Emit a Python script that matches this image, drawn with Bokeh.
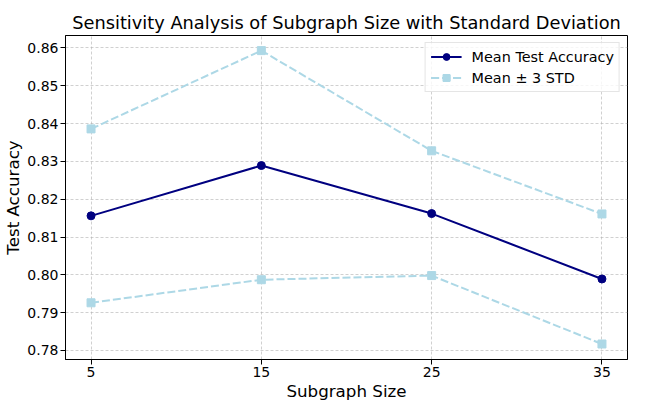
from bokeh.plotting import figure
from bokeh.models import Range1d, FixedTicker, NumeralTickFormatter
from bokeh.embed import file_html
from bokeh.resources import INLINE

# Data
subgraph_sizes = [5, 15, 25, 35]
mean_acc = [0.8156, 0.8289, 0.8162, 0.7989]
upper_acc = [0.8386, 0.8593, 0.8328, 0.8161]   # mean + 3 STD
lower_acc = [0.7926, 0.7987, 0.7998, 0.7817]   # mean - 3 STD
x_ticks = [5, 15, 25, 35]
y_ticks = [0.78, 0.79, 0.80, 0.81, 0.82, 0.83, 0.84, 0.85, 0.86]

FONT = "DejaVu Sans"

p = figure(width=629, height=403, output_backend="svg", toolbar_location=None,
           x_range=Range1d(3.5, 36.5), y_range=Range1d(0.7776, 0.8633),
           title="Sensitivity Analysis of Subgraph Size with Standard Deviation",
           min_border_left=0, min_border_right=2, min_border_top=35, min_border_bottom=0,
           background_fill_color="white", border_fill_color="white")

p.title.text_font = FONT
p.title.text_font_size = "17.8px"
p.title.text_font_style = "normal"
p.title.text_color = "black"
p.title.align = "center"
p.title.standoff = 5

p.outline_line_color = "black"
p.outline_line_width = 1
p.outline_line_alpha = 1

for ax in (p.xaxis[0], p.yaxis[0]):
    ax.axis_line_color = "black"
    ax.major_tick_line_color = "black"
    ax.major_tick_out = 5
    ax.major_tick_in = 0
    ax.minor_tick_line_color = None
    ax.major_label_text_font = FONT
    ax.major_label_text_font_size = "14px"
    ax.major_label_text_color = "black"
    ax.major_label_standoff = 2
    ax.axis_label_text_font = FONT
    ax.axis_label_text_font_size = "16.7px"
    ax.axis_label_text_font_style = "normal"
    ax.axis_label_text_color = "black"
    ax.axis_label_standoff = 1

p.xaxis.axis_label = "Subgraph Size"
p.yaxis.axis_label = "Test Accuracy"
p.xaxis.ticker = FixedTicker(ticks=x_ticks)
p.yaxis.ticker = FixedTicker(ticks=y_ticks)
p.yaxis.formatter = NumeralTickFormatter(format="0.00")

for g in (p.xgrid[0], p.ygrid[0]):
    g.grid_line_color = "#b0b0b0"
    g.grid_line_alpha = 0.6
    g.grid_line_width = 1
    g.grid_line_dash = "3 2"
p.xgrid.ticker = FixedTicker(ticks=x_ticks)
p.ygrid.ticker = FixedTicker(ticks=y_ticks)

# Mean line
p.line(subgraph_sizes, mean_acc, line_color="navy", line_width=2, legend_label="Mean Test Accuracy")
p.scatter(subgraph_sizes, mean_acc, marker="circle", size=8, fill_color="navy", line_color="navy",
          legend_label="Mean Test Accuracy")

# Mean +/- 3 STD
std_label = "Mean \u00b1 3 STD"
p.line(subgraph_sizes, upper_acc, line_color="lightblue", line_width=2, line_dash="8 3",
       legend_label=std_label)
p.scatter(subgraph_sizes, upper_acc, marker="square", size=8, fill_color="lightblue",
          line_color="lightblue", legend_label=std_label)
p.line(subgraph_sizes, lower_acc, line_color="lightblue", line_width=2, line_dash="8 3",
       legend_label=std_label)
p.scatter(subgraph_sizes, lower_acc, marker="square", size=8, fill_color="lightblue",
          line_color="lightblue", legend_label=std_label)

lg = p.legend[0]
lg.location = "top_right"
lg.margin = 7
lg.padding = 5
lg.spacing = 4
lg.glyph_width = 31
lg.glyph_height = 17
lg.label_height = 17
lg.label_standoff = 10
lg.label_text_font = FONT
lg.label_text_font_size = "14.4px"
lg.label_text_color = "black"
lg.border_line_color = "#cccccc"
lg.border_line_width = 1
lg.background_fill_color = "white"
lg.background_fill_alpha = 0.8

open("out.html", "w").write(file_html(p, INLINE))
